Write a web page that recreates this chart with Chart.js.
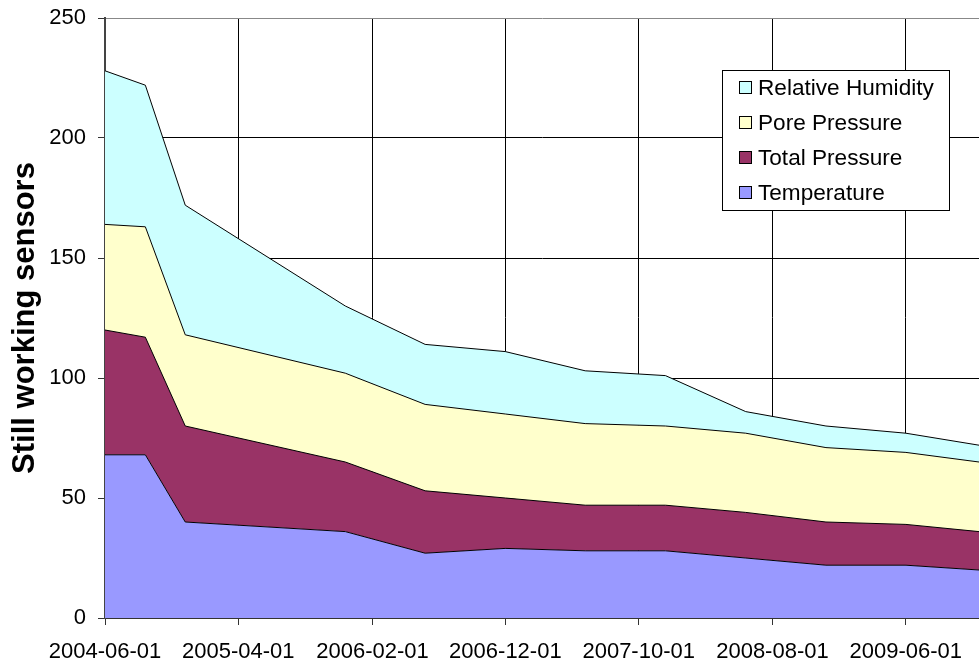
<!DOCTYPE html>
<html lang="en">
<head>
  <meta charset="UTF-8" />
  <title>Still working sensors</title>
  <script src="https://cdn.jsdelivr.net/npm/chart.js"></script>
  <style>
    html, body { margin: 0; padding: 0; background: #fff; }
    #wrap { position: relative; width: 979px; height: 663px; }
  </style>
</head>
<body>
  <div id="wrap"><canvas id="sensorChart"></canvas></div>

  <script>
    // sampling dates (last one is where the picture is cut off)
    const dates = ["2004-06-01", "2004-09-01", "2004-12-01", "2005-12-01", "2006-06-01", "2006-12-01",
                   "2007-06-01", "2007-12-01", "2008-06-01", "2008-12-01", "2009-06-01", "2009-11-15"];
    const temperature      = [68, 68, 40, 36, 27, 29, 28, 28, 25, 22, 22, 20];
    const totalPressure    = [52, 49, 40, 29, 26, 21, 19, 19, 19, 18, 17, 16];
    const porePressure     = [44, 46, 38, 37, 36, 35, 34, 33, 33, 31, 30, 29];
    const relativeHumidity = [64, 59, 54, 28, 25, 26, 22, 21,  9,  9,  8,  7];
    const tickLabels = ["2004-06-01", "2005-04-01", "2006-02-01", "2006-12-01", "2007-10-01", "2008-08-01", "2009-06-01"];
    const yTicks = [0, 50, 100, 150, 200, 250];

    const FONT = "'Liberation Sans', Arial, sans-serif";
    const start = Date.parse(dates[0]);
    const dayNum = d => Math.round((Date.parse(d) - start) / 86400000);
    const toPoints = vals => vals.map((v, i) => ({ x: dayNum(dates[i]), y: v }));

    const series = [
      { label: "Temperature",       data: temperature,      color: "#9999FF" },
      { label: "Total Pressure",    data: totalPressure,    color: "#993366" },
      { label: "Pore Pressure",     data: porePressure,     color: "#FFFFCC" },
      { label: "Relative Humidity", data: relativeHumidity, color: "#CCFFFF" }
    ];

    // legend box drawn inside the plot, top to bottom in reverse stacking order
    const boxLegend = {
      id: "boxLegend",
      afterDraw(chart) {
        const ctx = chart.ctx;
        const x = 722.5, y = 70.5, w = 227, h = 140;
        ctx.save();
        ctx.fillStyle = "#fff";
        ctx.fillRect(x, y, w, h);
        ctx.strokeStyle = "#000";
        ctx.lineWidth = 1;
        ctx.strokeRect(x, y, w, h);
        ctx.font = "22.6px " + FONT;
        ctx.textBaseline = "middle";
        const items = chart.data.datasets.slice().reverse();
        items.forEach((ds, i) => {
          const cy = 88 + i * 35;
          ctx.fillStyle = ds.backgroundColor;
          ctx.fillRect(739.5, cy - 6.5, 12, 12);
          ctx.strokeRect(739.5, cy - 6.5, 12, 12);
          ctx.fillStyle = "#000";
          ctx.fillText(ds.label, 758, cy + 1);
        });
        ctx.restore();
      }
    };

    new Chart(document.getElementById("sensorChart"), {
      type: "line",
      data: {
        datasets: series.map((s, i) => ({
          label: s.label,
          data: toPoints(s.data),
          backgroundColor: s.color,
          borderColor: "#000",
          borderWidth: 1,
          pointRadius: 0,
          tension: 0,
          fill: i === 0 ? "origin" : "-1"
        }))
      },
      options: {
        responsive: true,
        maintainAspectRatio: false,
        animation: false,
        layout: { padding: { top: 18, right: 0, bottom: 0, left: 0 } },
        plugins: {
          legend: { display: false },
          tooltip: { enabled: false }
        },
        scales: {
          x: {
            type: "linear",
            min: 0,
            max: dayNum(dates[dates.length - 1]),
            afterBuildTicks: s => { s.ticks = tickLabels.map(d => ({ value: dayNum(d) })); },
            afterFit: s => { s.height = 45; s.paddingLeft = 0; s.paddingRight = 0; },
            grid: { color: "#000", lineWidth: 1, tickLength: 7, tickColor: "#333" },
            border: { color: "#333", width: 2 },
            ticks: {
              autoSkip: false,
              maxRotation: 0,
              padding: 14,
              color: "#000",
              font: { family: FONT, size: 22 },
              callback: v => tickLabels[tickLabels.map(dayNum).indexOf(v)] || ""
            }
          },
          y: {
            stacked: true,
            min: 0,
            max: 250,
            afterBuildTicks: s => { s.ticks = yTicks.map(v => ({ value: v })); },
            afterFit: s => { s.width = 105; s.paddingTop = 0; s.paddingBottom = 0; },
            grid: {
              color: c => (c.tick && c.tick.value === 250 ? "#888" : "#000"),
              lineWidth: 1,
              tickLength: 7,
              tickColor: "#333"
            },
            border: { color: "#444", width: 2 },
            ticks: {
              padding: 12,
              color: "#000",
              font: { family: FONT, size: 22 }
            },
            title: {
              display: true,
              text: "Still working sensors",
              color: "#000",
              font: { family: FONT, size: 31, weight: "bold" },
              padding: { top: 7, bottom: 0 }
            }
          }
        }
      },
      plugins: [boxLegend]
    });
  </script>
</body>
</html>
